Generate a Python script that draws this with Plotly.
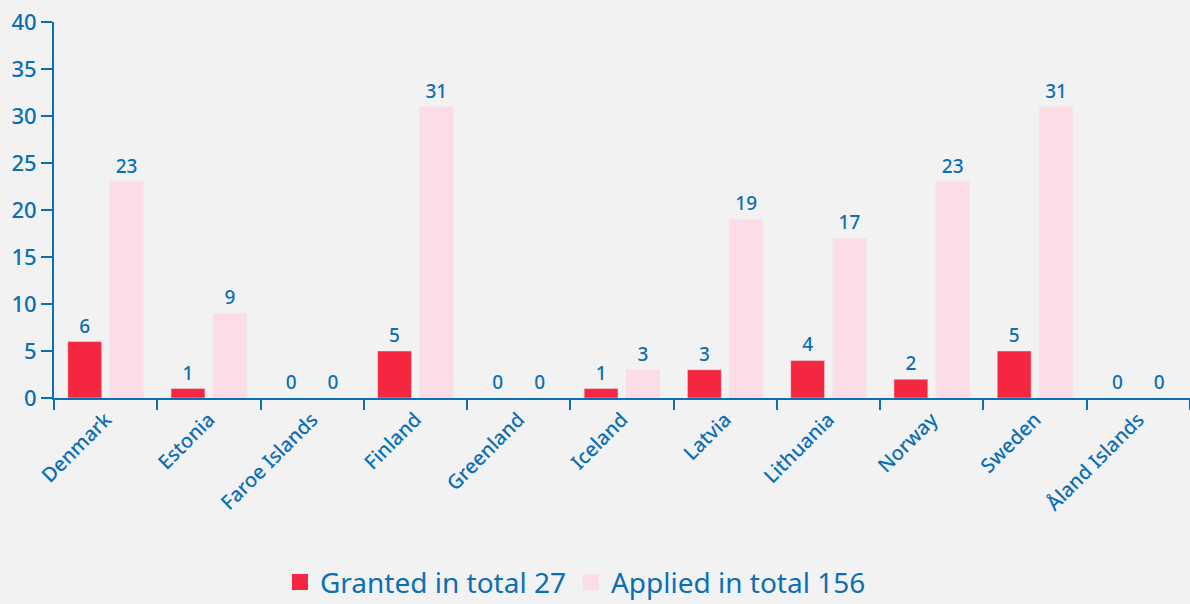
import plotly.graph_objects as go

countries = ["Denmark", "Estonia", "Faroe Islands", "Finland", "Greenland", "Iceland",
             "Latvia", "Lithuania", "Norway", "Sweden", "Åland Islands"]
granted = [6, 1, 0, 5, 0, 1, 3, 4, 2, 5, 0]
applied = [23, 9, 0, 31, 0, 3, 19, 17, 23, 31, 0]
granted_name = "Granted in total 27"
applied_name = "Applied in total 156"

BLUE = "#0B6FB5"
RED = "#F42640"
PINK = "#FCDDE6"
FONT = "Noto Sans, Open Sans, sans-serif"

fig = go.Figure()
fig.add_trace(go.Bar(x=countries, y=granted, name=granted_name, marker_color=RED,
                     text=granted, textposition="outside", cliponaxis=False, showlegend=False,
                     textfont=dict(color=BLUE, size=19, family=FONT, weight=500)))
fig.add_trace(go.Bar(x=countries, y=applied, name=applied_name, marker_color=PINK,
                     text=applied, textposition="outside", cliponaxis=False, showlegend=False,
                     textfont=dict(color=BLUE, size=19, family=FONT, weight=500)))
# legend entries with larger square swatches
for nm, col in [(granted_name, RED), (applied_name, PINK)]:
    fig.add_trace(go.Scatter(x=[None], y=[None], mode="markers", name=nm,
                             marker=dict(symbol="square", size=22, color=col)))

fig.update_layout(
    width=1190, height=604,
    paper_bgcolor="#F2F2F2", plot_bgcolor="#F2F2F2",
    margin=dict(l=54, r=0, t=22, b=206),
    barmode="group", bargap=0.19, bargroupgap=0.19,
    font=dict(family=FONT, color=BLUE, size=17),
    showlegend=True,
    legend=dict(orientation="h", x=0.459, xanchor="center",
                yref="container", y=0.036, yanchor="middle",
                font=dict(size=28, color=BLUE, family=FONT), itemwidth=30,
                bgcolor="rgba(0,0,0,0)"),
)
fig.update_yaxes(range=[0, 40], dtick=5, showgrid=False, zeroline=False,
                 showline=True, linecolor=BLUE, linewidth=2,
                 ticks="outside", ticklen=11, tickwidth=2, tickcolor=BLUE,
                 tickfont=dict(size=22, color=BLUE, weight=500))
fig.update_xaxes(showgrid=False, showline=True, linecolor=BLUE, linewidth=2,
                 ticks="outside", ticklen=10, tickwidth=2, tickcolor=BLUE,
                 tickson="boundaries", tickangle=-45, automargin=False,
                 tickfont=dict(size=20, color=BLUE, weight=500))

fig.write_html("out.html", config={"displayModeBar": False},
               post_script="document.body.style.margin='0';document.body.style.overflow='hidden';")
